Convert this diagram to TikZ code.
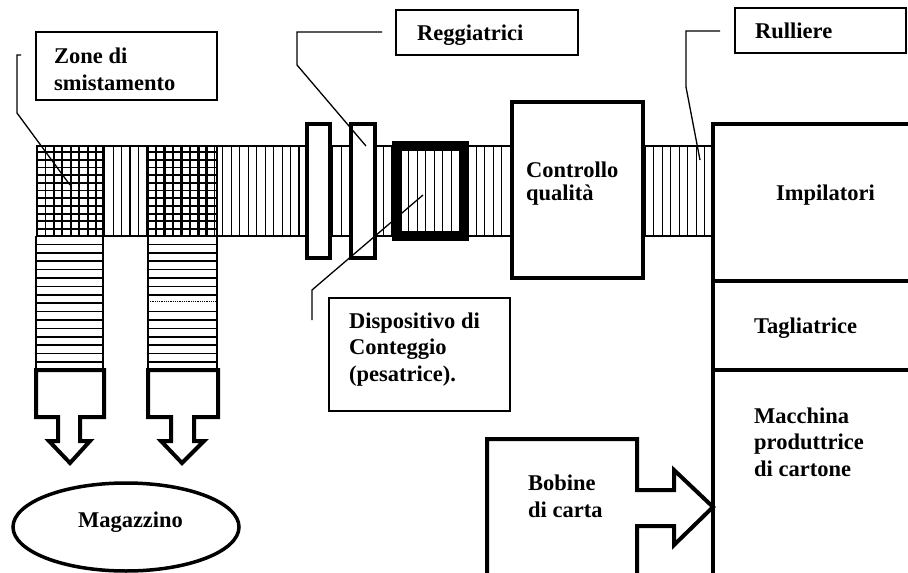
\documentclass[tikz,border=0pt]{standalone}
\usepackage{fontspec}
\setmainfont{Liberation Serif}
\usetikzlibrary{shapes.geometric}
\begin{document}
\begin{tikzpicture}[x=1pt,y=-1pt,
  lbl/.style={font=\fontsize{22.5}{26.5}\selectfont\bfseries, align=left, inner sep=0pt, anchor=base west},
  callbox/.style={draw, line width=1.3pt, inner sep=0pt, outer sep=0pt, anchor=north west},
  heavy/.style={line width=4pt, fill=white},
  leader/.style={line width=1.3pt},
  roll/.style={line width=1.1pt},
  gridl/.style={line width=1.8pt},
  slat/.style={line width=1.7pt}]
\useasboundingbox (0,0) rectangle (908,573);

% main roller conveyor
\draw[roll] (36,146) -- (713,146);
\draw[roll] (36,236) -- (713,236);
\foreach \k in {0,...,79} \draw[roll] ({37+8.45*\k},146) -- ({37+8.45*\k},236);
% sorting zones (grid)
\foreach \k in {0,...,7} {
  \draw[gridl] ({37+8.45*\k},146) -- ({37+8.45*\k},236);
  \draw[gridl] ({148+8.45*\k},146) -- ({148+8.45*\k},236);
}
\foreach \y in {152,159.7,167.4,175.1,182.8,190.5,198.2,205.9,213.6,221.3,229} {
  \draw[gridl] (36,\y) -- (103,\y);
  \draw[gridl] (148,\y) -- (217,\y);
}
\draw[gridl] (103,146) -- (103,236);
\draw[gridl] (148,146) -- (148,236);
\draw[gridl] (217,146) -- (217,236);

% vertical conveyors
\draw[slat] (36,236) -- (36,370) (103,236) -- (103,370);
\draw[slat] (148,236) -- (148,370) (217,236) -- (217,370);
\foreach \k in {0,...,14} \draw[slat] (36,{244.4+8.4*\k}) -- (103,{244.4+8.4*\k});
\foreach \k in {0,...,6,8,9,10,11,12,13,14} \draw[slat] (148,{244.4+8.4*\k}) -- (217,{244.4+8.4*\k});
\draw[line width=0.8pt, densely dotted] (148,301) -- (217,301);

% arrows to warehouse
\draw[heavy] (36,370) -- (104,370) -- (104,417) -- (80,417) -- (80,441) -- (90,441) -- (70,463) -- (49,441) -- (58,441) -- (58,417) -- (36,417) -- cycle;
\draw[heavy] (148,370) -- (218,370) -- (218,417) -- (194,417) -- (194,441) -- (204,441) -- (182,463) -- (161,441) -- (171,441) -- (171,417) -- (148,417) -- cycle;

% warehouse
\node[draw, ellipse, line width=3.5pt, minimum width=226, minimum height=88, inner sep=0pt] (mag) at (126,527) {};
\node[font=\fontsize{22.5}{26.5}\selectfont\bfseries, inner sep=0pt, anchor=base] (magtxt) at (130.5,527) {Magazzino};

% strapping machines
\draw[heavy] (307,124) rectangle (330,258);
\draw[heavy] (351,124) rectangle (375,258);

% counting / weighing device
\draw[line width=10pt] (397,146) rectangle (463.5,236);

% quality control
\node[heavy, draw, inner sep=0pt, outer sep=0pt, minimum width=131, minimum height=176, anchor=north west] (cq) at (512,102) {};
\node[lbl, font=\fontsize{22.5}{23}\selectfont\bfseries] (cqtxt) at (526,200) {Controllo\\qualità};

% stackers / cutter / board machine block
\draw[line width=4pt] (713,575) -- (713,124) -- (910,124);
\draw[line width=4pt] (713,281) -- (910,281);
\draw[line width=4pt] (713,370) -- (910,370);
\node[lbl] (imp) at (776,200) {Impilatori};
\node[lbl] (tag) at (754,333) {Tagliatrice};
\node[lbl] (mac) at (754,476) {Macchina\\produttrice\\di cartone};

% paper reels with arrow
\draw[heavy] (487,575) -- (487,439) -- (637,439) -- (637,490) -- (674,490) -- (674,470) -- (713,507) -- (674,545) -- (674,526) -- (637,526) -- (637,575);
\node[lbl] (bob) at (528,517) {Bobine\\di carta};

% callout boxes
\node[callbox, minimum width=181, minimum height=68] (zonebox) at (36,32) {};
\node[lbl] (zonetxt) at (54,90) {Zone di\\smistamento};
\node[callbox, minimum width=182, minimum height=45] (regbox) at (396,10) {};
\node[lbl] (regtxt) at (417,40) {Reggiatrici};
\node[callbox, minimum width=171, minimum height=45] (rulbox) at (735,8) {};
\node[lbl] (rultxt) at (755,38) {Rulliere};
\node[callbox, minimum width=181, minimum height=113] (disbox) at (329,298) {};
\node[lbl] (distxt) at (349,381) {Dispositivo di\\Conteggio\\(pesatrice).};

% leader lines
\coordinate (zA) at (21,55); \coordinate (zB) at (70,185);
\draw[leader] (zA) -- (17,55) -- (17,113) -- (zB);
\coordinate (rA) at (382,32); \coordinate (rB) at (366,146);
\draw[leader] (rA) -- (297,32) -- (297,65) -- (rB);
\coordinate (uA) at (720,31); \coordinate (uB) at (700,160);
\draw[leader] (uA) -- (686,31) -- (686,87) -- (uB);
\coordinate (dA) at (423,195); \coordinate (dB) at (312,320);
\draw[leader] (dA) -- (312,290) -- (dB);
\end{tikzpicture}
\end{document}
